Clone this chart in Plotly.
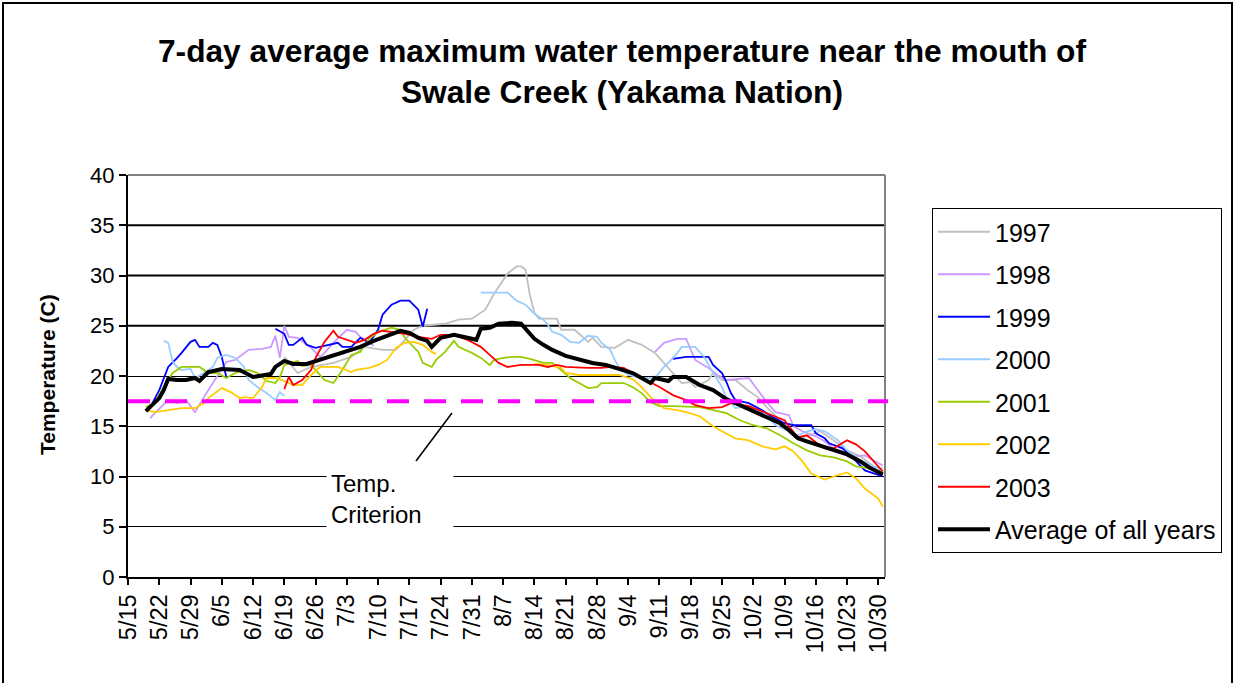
import pandas as pd
import plotly.graph_objects as go

# ---------------- data (day offsets after May 15, temperature in C) ----------------
SEASON_START = "2003-05-15"

Y1997 = [(35,21.9),(38,20.3),(41,20.9),(46,21.3),(50,21.9),(53,22.9),(57,22.6),(60,22.6),(62,23.6),(64,24.6),
         (66,25.0),(71,25.2),(74,25.6),(77,25.7),(80,26.6),(82,28.2),(85,30.2),(87,30.9),(88,30.9),(89,30.6),
         (90,28.0),(91,26.3),(92,25.7),(96,25.7),(97,24.6),(100,24.6),(103,23.4),(104,23.8),(106,22.9),(109,22.8),
         (112,23.6),(115,23.1),(118,22.3),(120,21.3),(122,20.3),(124,19.3),(126,19.4),(127,18.9),(130,19.6),(131,20.3),
         (133,19.6),(136,19.6),(139,18.5),(141,17.9),(143,16.9),(146,15.6),(150,13.8),(152,14.0),(155,14.5),(158,13.6),
         (161,12.6),(164,12.0),(167,11.0),(169,10.8)]

Y1998 = [(5,15.8),(6,16.3),(9,17.6),(11,17.3),(13,17.6),(15,16.4),(17,17.9),(19,19.3),(21,20.6),(22,21.4),
         (24,21.6),(27,22.6),(30,22.7),(32,22.9),(33,24.0),(34,21.8),(35,25.0),(36,23.9),(38,23.8),(41,22.8),
         (43,21.9),(44,22.3),(46,23.3),(48,24.1),(49,24.6),(51,24.4),(52,23.9),(54,23.3),(55,23.0),(86,None),
         (118,22.4),(120,23.3),(123,23.7),(125,23.7),(126,22.6),(127,21.6),(130,20.8),(132,20.1),(134,19.6),(139,19.8),
         (141,18.6),(143,17.4),(145,16.4),(148,16.1),(149,15.0),(151,14.5),(154,14.0),(156,13.5),(158,12.8),(160,12.5),
         (162,12.0),(165,12.1),(167,11.6),(169,11.1)]

Y1999 = [(5,16.9),(7,18.6),(9,20.9),(10,21.3),(11,21.8),(12,22.3),(13,22.9),(14,23.4),(15,23.6),(16,22.9),
         (18,22.9),(19,23.3),(20,23.1),(21,21.9),(22,19.9),(27,None),(33,24.7),(35,24.2),(36,23.1),(37,23.1),
         (39,23.8),(40,23.1),(42,22.8),(45,23.1),(47,23.3),(48,22.9),(50,22.9),(52,23.8),(54,23.3),(56,24.6),
         (57,26.1),(59,27.1),(61,27.5),(63,27.5),(65,26.6),(66,24.9),(67,26.7),(95,None),(122,21.7),(125,21.9),
         (130,21.9),(131,21.1),(133,20.3),(134,19.4),(135,18.3),(136,17.6),(139,17.3),(142,16.6),(144,16.0),(147,15.3),
         (149,15.1),(153,15.1),(154,14.3),(156,13.8),(157,13.3),(160,12.8),(162,12.0),(165,10.6),(169,10.0)]

Y2000 = [(8,23.5),(9,23.3),(10,21.4),(11,20.9),(12,20.6),(14,20.7),(15,19.8),(17,20.3),(19,20.9),(20,21.8),
         (22,22.1),(24,21.8),(26,20.9),(27,19.6),(29,18.9),(31,18.3),(33,17.6),(34,18.4),(35,18.0),(57,None),
         (79,28.3),(85,28.3),(87,27.5),(89,27.1),(91,26.2),(93,25.6),(94,25.1),(95,24.4),(97,24.1),(99,23.4),
         (101,23.3),(103,24.0),(105,23.9),(106,23.3),(108,22.6),(109,21.6),(110,20.8),(112,20.1),(115,19.8),(118,19.8),
         (120,20.9),(121,21.3),(123,22.3),(124,22.9),(127,22.9),(129,21.9),(131,20.3),(133,18.9),(134,17.8),(136,16.8),
         (139,17.0),(141,16.6),(143,16.0),(145,15.1),(148,14.5),(150,14.1),(152,14.5),(154,14.7),(156,14.5),(159,13.6),
         (161,12.6),(164,11.6),(167,11.0),(169,10.5)]

Y2001 = [(4,16.9),(6,17.3),(8,18.9),(10,20.3),(12,20.9),(16,20.9),(18,20.3),(20,20.3),(22,19.8),(24,20.3),
         (27,20.6),(29,20.3),(31,19.5),(33,19.3),(34,19.9),(35,21.1),(38,21.5),(39,21.0),(41,21.1),(42,20.6),
         (44,19.6),(46,19.3),(47,19.9),(48,20.6),(50,22.1),(52,22.4),(54,23.7),(56,24.4),(59,24.8),(61,24.6),
         (62,23.8),(65,22.4),(66,21.3),(68,20.9),(69,21.6),(71,22.4),(73,23.5),(74,22.9),(77,22.3),(79,21.8),
         (81,21.1),(82,21.6),(84,21.8),(86,21.9),(88,21.9),(90,21.7),(93,21.3),(95,21.3),(97,20.6),(99,19.8),
         (101,19.3),(103,18.8),(105,18.9),(106,19.3),(111,19.3),(113,18.9),(115,18.3),(117,17.4),(119,17.0),(122,17.0),
         (128,16.9),(131,16.6),(134,16.3),(137,15.6),(140,15.1),(143,14.8),(146,14.1),(149,13.3),(152,12.6),(155,12.1),
         (158,11.9),(161,11.5),(163,11.0),(166,10.8),(169,10.4)]

Y2002 = [(4,16.6),(6,16.4),(9,16.6),(12,16.8),(15,16.8),(17,17.3),(18,17.8),(21,18.8),(23,18.4),(25,17.8),
         (26,17.9),(28,17.8),(30,18.9),(31,19.8),(33,19.8),(35,19.5),(37,19.1),(39,19.1),(41,20.1),(43,20.9),
         (47,20.9),(50,20.4),(51,20.6),(54,20.8),(56,21.1),(58,21.6),(60,22.8),(62,23.3),(64,23.4),(66,23.1),
         (68,22.4),(69,22.2),(80,None),(91,21.2),(94,21.1),(97,20.8),(98,20.3),(101,20.1),(106,20.1),(110,20.1),
         (113,19.7),(115,18.9),(117,17.9),(120,16.8),(123,16.6),(125,16.4),(128,16.0),(131,15.0),(133,14.5),(136,13.8),
         (139,13.6),(142,13.0),(145,12.7),(147,13.0),(149,12.5),(151,11.5),(153,10.3),(156,9.7),(158,10.0),(161,10.4),
         (163,9.8),(165,8.8),(168,7.8),(169,7.0)]

Y2003 = [(35,18.7),(36,19.9),(37,19.1),(39,19.6),(41,20.6),(42,21.8),(44,23.4),(46,24.5),(47,23.9),(49,23.6),
         (51,23.3),(53,23.6),(55,24.2),(57,24.5),(59,24.4),(62,24.2),(65,23.9),(68,23.7),(70,24.1),(73,24.1),
         (76,23.6),(79,22.9),(81,22.1),(83,21.3),(85,20.9),(88,21.1),(92,21.1),(94,20.9),(96,21.1),(98,20.9),
         (103,20.8),(106,20.8),(108,20.9),(111,20.8),(113,20.3),(116,19.6),(119,18.9),(122,18.1),(125,17.6),(127,17.1),
         (130,16.8),(133,16.9),(135,17.3),(139,17.0),(142,16.5),(145,16.0),(147,15.6),(148,15.0),(150,13.9),(152,14.1),
         (154,13.4),(156,12.8),(158,12.8),(161,13.6),(163,13.2),(165,12.5),(167,11.5),(169,10.5)]

AVERAGE = [(4,16.5),(6,17.3),(7,17.8),(8,18.6),(9,19.7),(11,19.6),(13,19.6),(15,19.8),(16,19.5),(18,20.4),
           (21,20.7),(25,20.6),(28,19.9),(32,20.2),(33,20.9),(35,21.5),(37,21.2),(40,21.2),(43,21.6),(46,22.0),
           (49,22.4),(52,22.9),(55,23.5),(58,24.0),(61,24.5),(63,24.3),(65,23.8),(67,23.5),(68,22.9),(70,23.8),
           (73,24.1),(76,23.8),(78,23.6),(79,24.7),(81,24.8),(83,25.2),(86,25.3),(88,25.2),(89,24.7),(91,23.7),
           (93,23.1),(95,22.6),(98,22.0),(101,21.6),(104,21.3),(107,21.1),(110,20.7),(113,20.3),(115,19.8),(117,19.3),
           (118,19.8),(121,19.5),(122,19.9),(125,19.9),(128,19.1),(131,18.6),(134,17.7),(137,17.1),(140,16.6),(143,16.0),
           (146,15.3),(148,14.6),(150,13.8),(152,13.5),(155,13.1),(158,12.7),(161,12.2),(164,11.5),(166,10.9),(169,10.2)]

SERIES_NAMES = ["1997", "1998", "1999", "2000", "2001", "2002", "2003", "Average of all years"]
SERIES_DATA = [Y1997, Y1998, Y1999, Y2000, Y2001, Y2002, Y2003, AVERAGE]
COLORS = ["#C0C0C0", "#CC99FF", "#0000FF", "#99CCFF", "#99CC00", "#FFCC00", "#FF0000", "#000000"]
WIDTHS = [1.8, 1.8, 1.8, 1.8, 1.8, 1.8, 1.8, 4]

CRITERION = 17.5
TICK_LABELS = ["5/15", "5/22", "5/29", "6/5", "6/12", "6/19", "6/26", "7/3", "7/10", "7/17", "7/24",
               "7/31", "8/7", "8/14", "8/21", "8/28", "9/4", "9/11", "9/18", "9/25", "10/2", "10/9",
               "10/16", "10/23", "10/30"]
Y_TICKS = [0, 5, 10, 15, 20, 25, 30, 35, 40]

FONT = "Arial, 'Liberation Sans', sans-serif"

base = pd.Timestamp(SEASON_START)


def to_dates(days):
    return [base + pd.Timedelta(days=d) for d in days]


fig = go.Figure()
for name, data, color, w in zip(SERIES_NAMES, SERIES_DATA, COLORS, WIDTHS):
    days = [d for d, _ in data]
    vals = [v for _, v in data]
    fig.add_trace(go.Scatter(
        x=to_dates(days), y=vals, mode="lines", name=name,
        line=dict(color=color, width=w), connectgaps=False,
        legendgroup=name,
    ))

tickvals = [base + pd.Timedelta(days=7 * i) for i in range(len(TICK_LABELS))]

W, H = 1235, 683
L, R, T, B = 128, 885, 175, 577
pw, ph = R - L, B - T


def px(xp):
    return (xp - L) / pw


def py(yp):
    return (B - yp) / ph


shapes = []
# bolder gridlines in upper half
for v in [25, 30, 35]:
    shapes.append(dict(type="line", xref="paper", yref="y", x0=0, x1=1, y0=v, y1=v,
                       line=dict(color="black", width=2), layer="below"))
# plot area top/right border (gray)
shapes.append(dict(type="line", xref="paper", yref="paper", x0=0, x1=1, y0=1, y1=1,
                   line=dict(color="#808080", width=2), layer="above"))
shapes.append(dict(type="line", xref="paper", yref="paper", x0=1, x1=1, y0=0, y1=1,
                   line=dict(color="#808080", width=2), layer="above"))
# criterion dashed line
shapes.append(dict(type="line", xref="paper", yref="y", x0=0, x1=px(888), y0=CRITERION, y1=CRITERION,
                   line=dict(color="#FF00FF", width=4, dash="22px,15px"), layer="above"))
# pointer line for the label
shapes.append(dict(type="line", xref="paper", yref="paper", x0=px(452), y0=py(413), x1=px(416), y1=py(461),
                   line=dict(color="black", width=1.5), layer="above"))
# chart area border
shapes.append(dict(type="rect", xref="paper", yref="paper", x0=px(3), x1=px(1232), y0=py(720), y1=py(3),
                   line=dict(color="black", width=2), fillcolor="rgba(0,0,0,0)", layer="above"))

annotations = [
    dict(text="Temp.<br>Criterion", xref="paper", yref="paper", x=px(326), y=py(499),
         xanchor="left", yanchor="middle", align="left", showarrow=False,
         bgcolor="white", width=118, height=66, borderpad=4,
         font=dict(family=FONT, size=24, color="black")),
    dict(text="<b>Temperature (C)</b>", xref="paper", yref="paper", x=px(47), y=py(375),
         xanchor="center", yanchor="middle", textangle=-90, showarrow=False,
         font=dict(family=FONT, size=21, color="black")),
]

fig.update_layout(
    width=W, height=H,
    margin=dict(l=L, r=W - R, t=T, b=H - B, pad=0),
    paper_bgcolor="white", plot_bgcolor="white",
    font=dict(family=FONT, color="black"),
    title=dict(text="<b>7-day average maximum water temperature near the mouth of<br>Swale Creek (Yakama Nation)</b>",
               x=622 / W, xanchor="center", xref="container",
               y=1 - 62 / H, yanchor="middle", yref="container",
               font=dict(family=FONT, size=31.7, color="black")),
    xaxis=dict(type="date",
               range=[base, base + pd.Timedelta(days=169.5)],
               tickmode="array", tickvals=tickvals, ticktext=TICK_LABELS,
               tickangle=-90, ticks="outside", ticklen=6, tickwidth=1.5, tickcolor="black",
               showline=True, linecolor="black", linewidth=2,
               showgrid=False, zeroline=False,
               tickfont=dict(family=FONT, size=23.5, color="black")),
    yaxis=dict(range=[0, 40], tickmode="array", tickvals=Y_TICKS,
               ticks="outside", ticklen=7, tickwidth=1.5, tickcolor="black",
               showline=True, linecolor="black", linewidth=2,
               showgrid=True, gridcolor="black", gridwidth=1, zeroline=False,
               tickfont=dict(family=FONT, size=22, color="black")),
    legend=dict(x=px(932), y=py(208), xanchor="left", yanchor="top",
                bordercolor="black", borderwidth=1, bgcolor="white",
                font=dict(family=FONT, size=25, color="black"),
                tracegroupgap=7, itemwidth=52,
                traceorder="grouped"),
    shapes=shapes,
    annotations=annotations,
    showlegend=True,
)

fig.write_html("out.html",
               config={"displayModeBar": False},
               post_script="document.body.style.margin='0px';document.body.style.overflow='hidden';")
